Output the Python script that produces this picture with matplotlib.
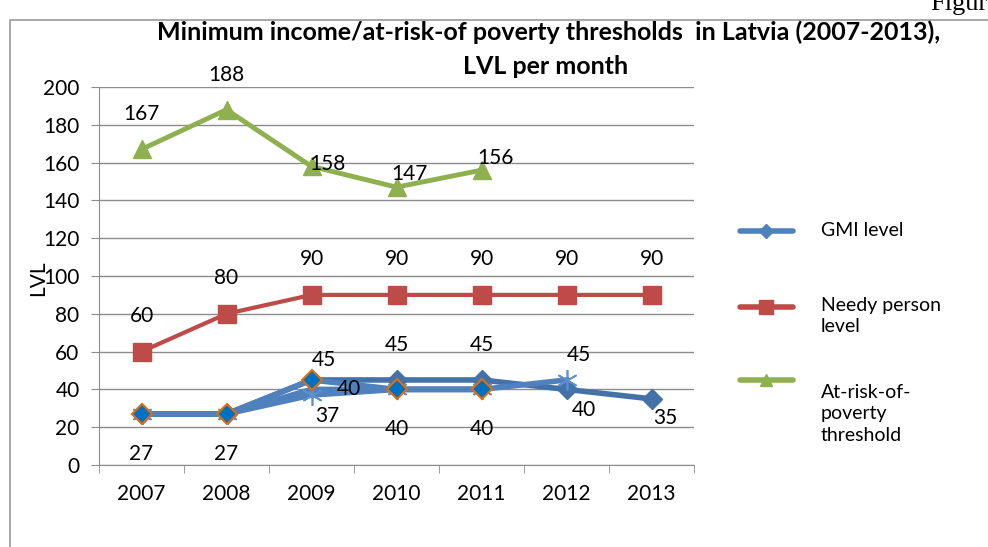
import numpy as np
import matplotlib
matplotlib.use("Agg")
import matplotlib.pyplot as plt
from matplotlib.patches import Rectangle
from matplotlib.lines import Line2D

plt.rcParams['font.family'] = ['Lato', 'DejaVu Sans']

# minimum income levels, LVL per month
years = ['2007', '2008', '2009', '2010', '2011', '2012', '2013']
gmi = [27, 27, 45, 45, 45, 40, 35]
gmi_star = [27, 27, 37, 40, 40, 45, np.nan]
gmi_old = [27, 27, 45, 40, 40, np.nan, np.nan]
gmi_plain = [27, 27, 40, 40, 40, np.nan, np.nan]
needy = [60, 80, 90, 90, 90, 90, 90]
arop = [167, 188, 158, 147, 156, np.nan, np.nan]

# label offsets in pixels (dx, dy), None = no label
gmi_off = [(0, -40), (0, -40), (12, 20), (0, 35), (0, 35), (17, -21), (14, -19)]
star_off = [None, None, (16, -21), (0, -40), (0, -40), (12, 25), None]
plain_off = [None, None, (37, 0), None, None, None, None]
needy_off = [(0, 36)] * 7
arop_off = [(0, 35), (0, 35), (16, 2), (13, 13), (14, 12), None, None]

BLUE_DK = '#4472A8'
BLUE = '#4F81BD'
RED = '#BE4B48'
GREEN = '#8FB04E'
GRID = '#8C8C8C'

fig = plt.figure(figsize=(9.88, 5.47), dpi=100)
ax = fig.add_axes([99 / 988, 82 / 547, 595 / 988, 378 / 547])
x = np.arange(len(years))

ax.plot(x, gmi, color=BLUE_DK, lw=4, marker='D', ms=10, mfc=BLUE_DK, mec=BLUE_DK, zorder=3)
ax.plot(x, gmi_plain, color=BLUE, lw=4, zorder=3)
ax.plot(x, gmi_star, color=BLUE, lw=4, marker=(6, 2, 0), ms=15, mew=1.2, mec='#5B8FD0', zorder=3)
ax.plot(x, gmi_old, color=BLUE, lw=4, marker='D', ms=10, mfc='#0070C0', mec='#E46C0A', mew=1.5, zorder=4)
ax.plot(x, needy, color=RED, lw=3, marker='s', ms=13, mfc=RED, mec=RED, zorder=3)
ax.plot(x, arop, color=GREEN, lw=3.5, marker='^', ms=13, mfc=GREEN, mec=GREEN, zorder=3)


def put_labels(vals, offs):
    for i, (v, o) in enumerate(zip(vals, offs)):
        if o is None or np.isnan(v):
            continue
        ax.annotate(f'{v:g}', (x[i], v), xytext=(o[0] * 0.72, o[1] * 0.72),
                    textcoords='offset points', ha='center', va='center',
                    fontsize=15, color='black', zorder=6)


put_labels(gmi, gmi_off)
put_labels(gmi_star, star_off)
put_labels(gmi_plain, plain_off)
put_labels(needy, needy_off)
put_labels(arop, arop_off)

ax.set_xlim(-0.5, 6.5)
ax.set_ylim(0, 200)
ax.set_yticks(range(0, 201, 20))
ax.set_xticks(x)
ax.set_xticklabels(years)
ax.set_xticks(np.arange(-0.5, 7, 1), minor=True)
ax.tick_params(axis='x', which='major', length=0, labelsize=15, pad=14)
ax.tick_params(axis='x', which='minor', length=6, color=GRID, direction='out')
ax.tick_params(axis='y', length=6, color=GRID, labelsize=15, pad=8)
ax.grid(axis='y', color=GRID, lw=1)
ax.set_axisbelow(True)
for s in ['top', 'right']:
    ax.spines[s].set_visible(False)
for s in ['left', 'bottom']:
    ax.spines[s].set_color(GRID)
ax.set_ylabel('LVL', fontsize=15)
ax.yaxis.set_label_coords(-0.085, 0.495)

fig.text(549 / 988, 1 - 32 / 547, 'Minimum income/at-risk-of poverty thresholds  in Latvia (2007-2013),',
         ha='center', va='center', fontsize=18, fontweight='bold')
fig.text(546 / 988, 1 - 66 / 547, 'LVL per month', ha='center', va='center',
         fontsize=18, fontweight='bold')

# legend drawn by hand
leg = [(BLUE, 'D', 7, 231, 'GMI level', 231),
       (RED, 's', 10, 307, 'Needy person\nlevel', 316),
       (GREEN, '^', 9, 380, 'At-risk-of-\npoverty\nthreshold', 414)]
for col, mk, ms, yl, txt, yt in leg:
    fig.add_artist(Line2D([740 / 988, 793 / 988], [1 - yl / 547] * 2, color=col, lw=4,
                          solid_capstyle='round', transform=fig.transFigure))
    fig.add_artist(Line2D([766 / 988], [1 - yl / 547], color=col, marker=mk, ms=ms,
                          transform=fig.transFigure))
    fig.text(821 / 988, 1 - yt / 547, txt, ha='left', va='center', fontsize=14,
             linespacing=1.3)

# frame and page text
fig.add_artist(Rectangle((10 / 988, -0.1), 1.2, 1 - 20 / 547 + 0.1, fill=False,
                         ec='#9A9A9A', lw=1.2, transform=fig.transFigure))
fig.text(930 / 988, 1 - 10 / 547, 'Figure', family='Liberation Serif', fontsize=19,
         ha='left', va='baseline')

fig.savefig('out.png', dpi=100)
